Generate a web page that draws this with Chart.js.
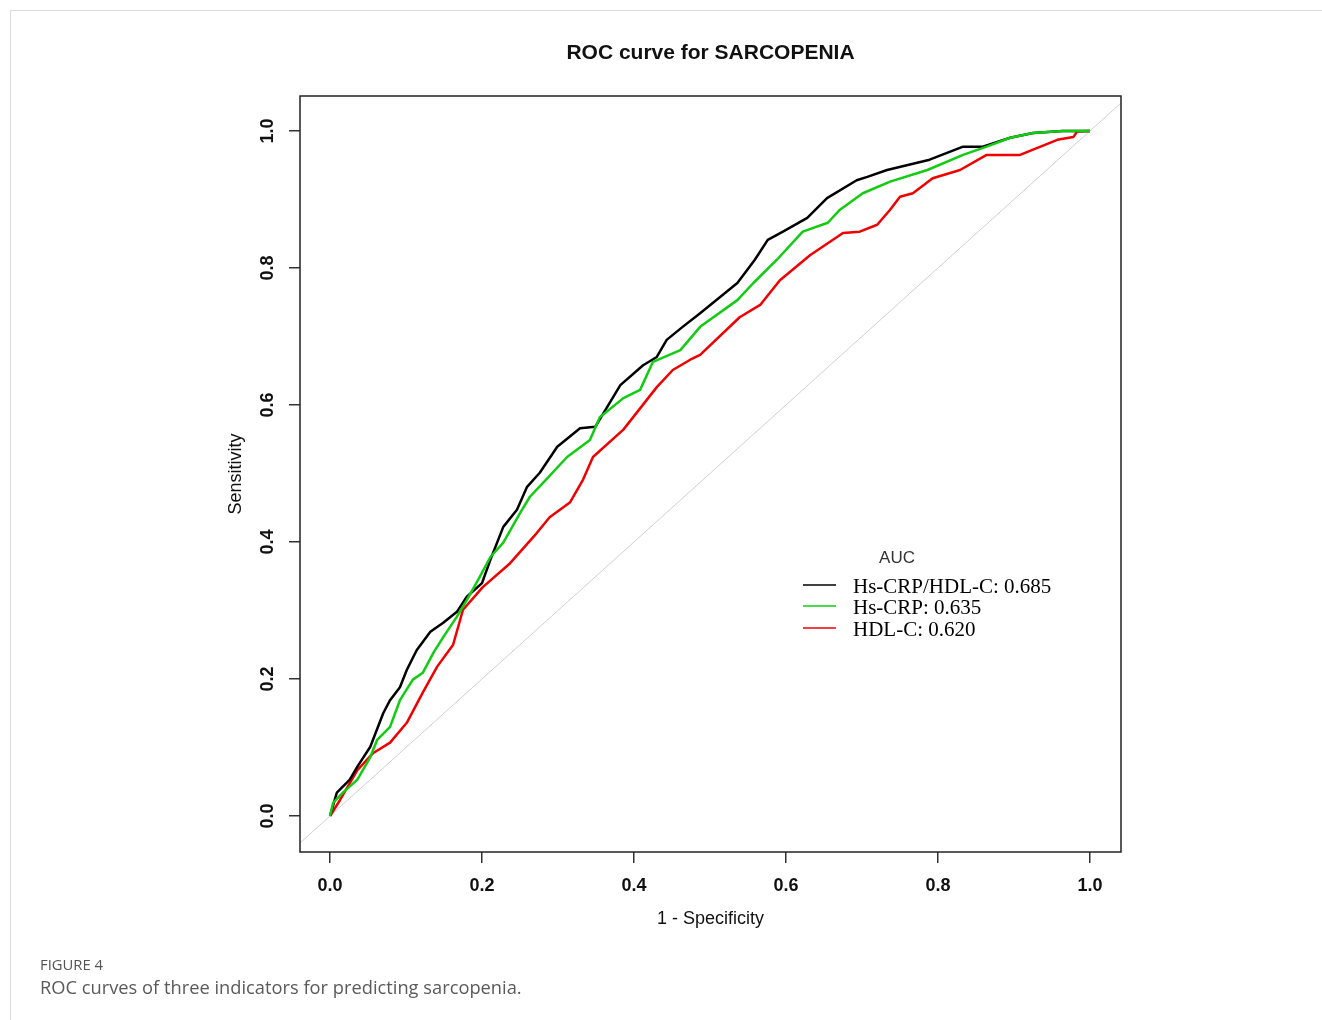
<!DOCTYPE html>
<html>
<head>
<meta charset="utf-8">
<script src="https://cdn.jsdelivr.net/npm/chart.js@4.4.1/dist/chart.umd.min.js"></script>
<style>
    body { margin: 0; background: #fff; width: 1322px; height: 1020px; overflow: hidden; position: relative; font-family: "Open Sans", sans-serif; }
    #frame { position: absolute; left: 10px; top: 10px; right: 0; bottom: 0; border-top: 1px solid #dcdcdc; border-left: 1px solid #dcdcdc; }
    #rocChart { position: absolute; left: 0; top: 0; }
    .fig-label { position: absolute; left: 40px; top: 954px; font-size: 14.8px; line-height: 20px; color: #555; }
    .fig-caption { position: absolute; left: 40px; top: 975px; font-size: 18.3px; line-height: 24px; color: #5a5a5a; }
</style>
</head>
<body>
<div id="frame"></div>
<canvas id="rocChart" width="1322" height="1020"></canvas>
<div class="fig-label">FIGURE 4</div>
<div class="fig-caption">ROC curves of three indicators for predicting sarcopenia.</div>

<script>
// values (1 - specificity, sensitivity)
const ratioX = [0, 0.009, 0.026, 0.036, 0.053, 0.070, 0.079, 0.092, 0.101, 0.114, 0.132, 0.149, 0.167, 0.180, 0.200, 0.211, 0.228, 0.246, 0.259, 0.276, 0.299, 0.329, 0.349, 0.382, 0.412, 0.430, 0.443, 0.464, 0.487, 0.536, 0.559, 0.576, 0.596, 0.628, 0.654, 0.693, 0.707, 0.733, 0.789, 0.833, 0.859, 0.895, 0.925, 0.964, 1.0];
const ratioY = [0, 0.034, 0.053, 0.072, 0.101, 0.150, 0.169, 0.188, 0.213, 0.242, 0.269, 0.282, 0.298, 0.320, 0.340, 0.374, 0.422, 0.447, 0.480, 0.501, 0.539, 0.566, 0.568, 0.629, 0.658, 0.670, 0.695, 0.714, 0.734, 0.778, 0.812, 0.841, 0.853, 0.873, 0.902, 0.928, 0.933, 0.943, 0.958, 0.977, 0.977, 0.990, 0.997, 1.0, 1.0];

const crpX = [0, 0.004, 0.017, 0.036, 0.053, 0.062, 0.079, 0.092, 0.109, 0.122, 0.136, 0.149, 0.167, 0.180, 0.197, 0.211, 0.228, 0.250, 0.263, 0.280, 0.312, 0.342, 0.355, 0.386, 0.408, 0.425, 0.461, 0.487, 0.536, 0.557, 0.588, 0.622, 0.655, 0.671, 0.701, 0.737, 0.786, 0.833, 0.864, 0.895, 0.925, 0.964, 1.0];
const crpY = [0, 0.019, 0.034, 0.053, 0.086, 0.111, 0.130, 0.169, 0.199, 0.209, 0.238, 0.261, 0.291, 0.315, 0.349, 0.378, 0.399, 0.442, 0.466, 0.486, 0.524, 0.549, 0.582, 0.610, 0.622, 0.663, 0.680, 0.714, 0.753, 0.778, 0.812, 0.853, 0.866, 0.885, 0.909, 0.926, 0.943, 0.965, 0.977, 0.990, 0.997, 1.0, 1.0];

const hdlX = [0, 0.013, 0.036, 0.057, 0.079, 0.101, 0.122, 0.141, 0.162, 0.175, 0.201, 0.237, 0.272, 0.289, 0.316, 0.333, 0.346, 0.386, 0.430, 0.451, 0.474, 0.487, 0.539, 0.566, 0.592, 0.632, 0.675, 0.697, 0.720, 0.737, 0.750, 0.767, 0.793, 0.829, 0.864, 0.908, 0.930, 0.957, 0.978, 0.983, 1.0];
const hdlY = [0, 0.023, 0.067, 0.092, 0.107, 0.136, 0.180, 0.218, 0.250, 0.301, 0.334, 0.369, 0.413, 0.436, 0.458, 0.491, 0.524, 0.564, 0.626, 0.651, 0.666, 0.673, 0.728, 0.746, 0.782, 0.819, 0.851, 0.853, 0.863, 0.885, 0.904, 0.909, 0.931, 0.943, 0.965, 0.965, 0.975, 0.987, 0.991, 0.999, 1.0];

const seriesNames = ["Hs-CRP/HDL-C", "Hs-CRP", "HDL-C"];
const aucValues = [0.685, 0.635, 0.620];
const tickValues = [0, 0.2, 0.4, 0.6, 0.8, 1.0];
const chanceLine = [-0.1, 1.1];

const colors = ["#000000", "#12cc12", "#f00000"];

function toPoints(xs, ys) {
    return xs.map((x, i) => ({ x: x, y: ys[i] }));
}

// R-style frame, rotated y labels, title and AUC legend
const decor = {
    id: "decor",
    afterDraw(chart) {
        const ctx = chart.ctx;
        const a = chart.chartArea;
        const yScale = chart.scales.y;
        ctx.save();

        ctx.strokeStyle = "#222";
        ctx.lineWidth = 1.5;
        ctx.strokeRect(a.left, a.top, a.right - a.left, a.bottom - a.top);

        ctx.fillStyle = "#111";
        ctx.textAlign = "center";
        ctx.textBaseline = "middle";

        ctx.font = "bold 21px 'Liberation Sans', Arial, sans-serif";
        ctx.fillText("ROC curve for SARCOPENIA", (a.left + a.right) / 2, 53);

        ctx.font = "bold 18px 'Liberation Sans', Arial, sans-serif";
        tickValues.forEach(v => {
            ctx.save();
            ctx.translate(a.left - 32, yScale.getPixelForValue(v));
            ctx.rotate(-Math.PI / 2);
            ctx.fillText(v.toFixed(1), 0, 0);
            ctx.restore();
        });

        ctx.font = "18px 'Liberation Sans', Arial, sans-serif";
        ctx.save();
        ctx.translate(a.left - 64, (a.top + a.bottom) / 2);
        ctx.rotate(-Math.PI / 2);
        ctx.fillText("Sensitivity", 0, 0);
        ctx.restore();

        // legend
        const lx = a.left + 503;
        ctx.fillStyle = "#333";
        ctx.font = "17px 'Liberation Sans', Arial, sans-serif";
        ctx.fillText("AUC", a.left + 597, 558);
        ctx.textAlign = "left";
        ctx.font = "21px 'Liberation Serif', 'Times New Roman', serif";
        const rows = [585, 606, 628];
        seriesNames.forEach((name, i) => {
            ctx.strokeStyle = colors[i];
            ctx.lineWidth = 1.5;
            ctx.beginPath();
            ctx.moveTo(lx, rows[i]);
            ctx.lineTo(lx + 33, rows[i]);
            ctx.stroke();
            ctx.fillStyle = "#000";
            ctx.fillText(name + ": " + aucValues[i].toFixed(3), lx + 50, rows[i] + 2);
        });

        ctx.restore();
    }
};

const ctx = document.getElementById("rocChart").getContext("2d");
const rocChart = new Chart(ctx, {
    type: "line",
    data: {
        datasets: [
            {
                label: seriesNames[1],
                data: toPoints(crpX, crpY),
                borderColor: colors[1],
                borderWidth: 2.5,
                order: 0
            },
            {
                label: seriesNames[0],
                data: toPoints(ratioX, ratioY),
                borderColor: colors[0],
                borderWidth: 2.5,
                order: 1
            },
            {
                label: seriesNames[2],
                data: toPoints(hdlX, hdlY),
                borderColor: colors[2],
                borderWidth: 2.5,
                order: 2
            },
            {
                label: "reference",
                data: toPoints(chanceLine, chanceLine),
                borderColor: "#d0d0d0",
                borderWidth: 1,
                clip: 0,
                order: 3
            }
        ]
    },
    options: {
        responsive: false,
        animation: false,
        events: [],
        layout: { padding: { left: 250, right: 201, top: 96, bottom: 90 } },
        elements: {
            point: { radius: 0 },
            line: { tension: 0, borderJoinStyle: "round", fill: false }
        },
        plugins: {
            legend: { display: false },
            tooltip: { enabled: false },
            title: { display: false }
        },
        scales: {
            x: {
                type: "linear",
                min: -0.0395,
                max: 1.0408,
                afterBuildTicks: scale => { scale.ticks = tickValues.map(v => ({ value: v })); },
                afterFit: scale => { scale.height = 78; },
                border: { display: false },
                grid: { drawOnChartArea: false, drawTicks: true, tickLength: 11, color: "#333", lineWidth: 1.5 },
                ticks: {
                    autoSkip: false,
                    maxRotation: 0,
                    padding: 12,
                    color: "#111",
                    font: { family: "'Liberation Sans', Arial, sans-serif", size: 18, weight: "bold" },
                    callback: v => v.toFixed(1)
                },
                title: {
                    display: true,
                    text: "1 - Specificity",
                    color: "#111",
                    padding: 0,
                    font: { family: "'Liberation Sans', Arial, sans-serif", size: 18 }
                }
            },
            y: {
                type: "linear",
                min: -0.0526,
                max: 1.051,
                afterBuildTicks: scale => { scale.ticks = tickValues.map(v => ({ value: v })); },
                afterFit: scale => { scale.width = 50; },
                border: { display: false },
                grid: { drawOnChartArea: false, drawTicks: true, tickLength: 11, color: "#333", lineWidth: 1.5 },
                ticks: { color: "rgba(0,0,0,0)", padding: 2 }
            }
        }
    },
    plugins: [decor]
});
</script>
</body>
</html>
